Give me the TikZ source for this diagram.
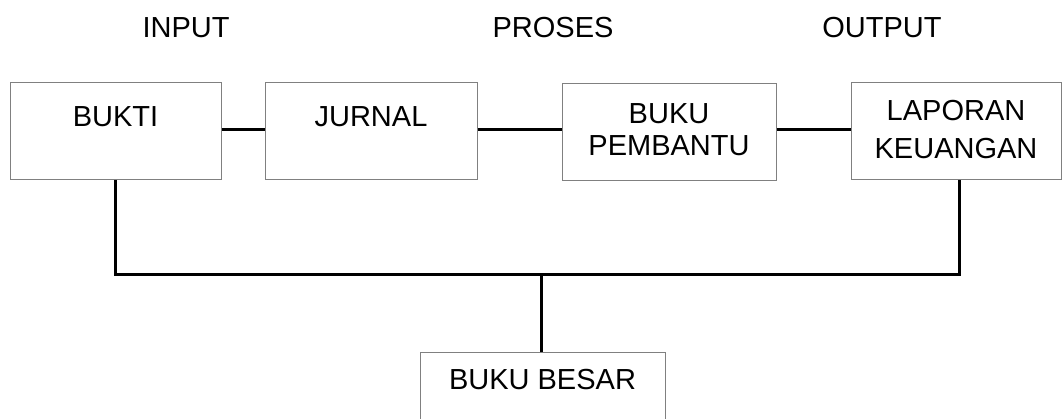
\documentclass[tikz,border=0pt]{standalone}
\usepackage{fontspec}
\setmainfont{Liberation Sans}
\begin{document}
\begin{tikzpicture}[x=1pt,y=-1pt,
  boxnode/.style={draw=black!50, line width=1pt, fill=white, inner sep=0pt, minimum height=97pt},
  txt/.style={inner sep=0pt, font=\fontsize{29}{34}\selectfont, text height=20.8pt, text depth=0pt, anchor=center},
  conn/.style={draw=black, line width=3pt}]
\useasboundingbox (0,0) rectangle (1062,419);
\clip (0,0) rectangle (1062,419);
% boxes
\node[boxnode, minimum width=211pt] (bukti) at (115.5,131.5) {};
\node[boxnode, minimum width=212pt] (jurnal) at (371,131.5) {};
\node[boxnode, minimum width=214pt] (pembantu) at (669,132) {};
\node[boxnode, minimum width=210pt] (laporan) at (956,131) {};
\node[boxnode, minimum width=245pt, minimum height=110pt] (besar) at (542.5,407) {};
% connectors
\coordinate (busL) at (115.5,275);
\coordinate (busR) at (959,275);
\coordinate (busM) at (541,275);
\draw[conn] (bukti.east |- 0,130) -- (jurnal.west |- 0,130);
\draw[conn] (jurnal.east |- 0,130) -- (pembantu.west |- 0,130);
\draw[conn] (pembantu.east |- 0,130) -- (laporan.west |- 0,130);
\draw[conn] (bukti.south) -- (busL) -- (busR) -- (busR |- laporan.south);
\draw[conn] (busM) -- (busM |- besar.north);
% texts
\node[txt] (tinput) at (186,27) {INPUT};
\node[txt] (tproses) at (553,27) {PROSES};
\node[txt] (toutput) at (882,27) {OUTPUT};
\node[txt] (tbukti) at (115.5,116) {BUKTI};
\node[txt] (tjurnal) at (371,116) {JURNAL};
\node[txt] (tbuku) at (669,113) {BUKU};
\node[txt] (tpembantu) at (669,145) {PEMBANTU};
\node[txt] (tlaporan) at (956,110) {LAPORAN};
\node[txt] (tkeuangan) at (956,148) {KEUANGAN};
\node[txt] (tbesar) at (542.5,379) {BUKU BESAR};
\end{tikzpicture}
\end{document}
